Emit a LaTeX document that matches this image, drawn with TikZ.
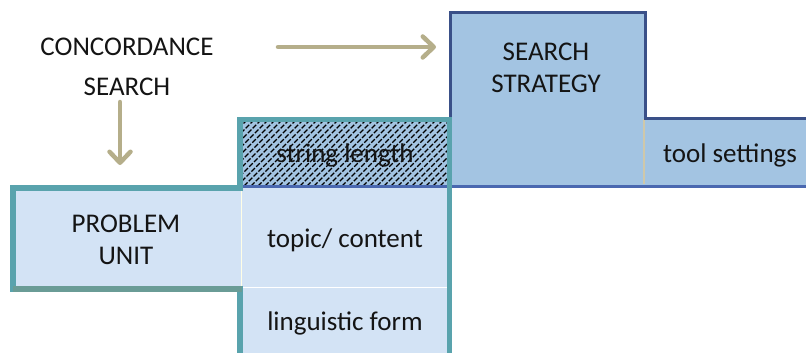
\documentclass[tikz,border=0pt]{standalone}
\usepackage{fontspec}
\setmainfont{Carlito}
\usetikzlibrary{arrows.meta}
\definecolor{stratfill}{HTML}{A3C4E2}
\definecolor{lightfill}{HTML}{D3E3F5}
\definecolor{darkblue}{HTML}{3A5088}
\definecolor{midblue}{HTML}{4A68B0}
\definecolor{tealc}{HTML}{59A3AD}
\definecolor{tealgrey}{HTML}{6A9C96}
\definecolor{tanc}{HTML}{B5AE8A}
\definecolor{sepc}{HTML}{CFC8AA}
\definecolor{txt}{HTML}{141414}
\tikzset{
  lbl/.style={text=txt, align=center, font=\fontsize{27}{32}\selectfont, inner sep=0pt},
  tanarrow/.style={draw=tanc, line width=4.5pt, line cap=round, line join=round,
    -{Straight Barb[length=11pt,width=21pt,line cap=round,line join=round]}},
  tealline/.style={draw=tealc, line width=5.5pt, line join=miter},
}
\begin{document}
\begin{tikzpicture}[x=1pt,y=-1pt]
\useasboundingbox (0,0) rectangle (806,353);
% strategy group
\fill[stratfill] (450,13) -- (645,13) -- (645,118) -- (810,118) -- (810,185) -- (450,185) -- cycle;
\draw[sepc, line width=1.5pt] (644,119) -- (644,184);
\draw[darkblue, line width=3pt] (450,185) -- (450,13) -- (645,13) -- (645,118) -- (810,118);
% light fills
\fill[lightfill] (11,186) rectangle (242,290);
\fill[lightfill] (240,185) rectangle (450,356);
\draw[white!90!yellow, line width=1pt] (241.5,190) -- (241.5,287);
\draw[white, line width=1.2pt] (242,287.5) -- (447,287.5);
% string length hatch
\fill[stratfill] (240,118) rectangle (450,185);
\begin{scope}
  \clip (242,121) rectangle (447,184);
  \foreach \i in {-80,-73,...,230} {
    \draw[black, line width=1.3pt, dash pattern=on 5pt off 1.8pt] (240+\i,186) -- (240+\i+72,114);
  }
\end{scope}
% bottom line of strategy group
\draw[midblue, line width=3.2pt] (240,186.5) -- (810,186.5);
% teal outline
\draw[tealline] (240,356) -- (240,289) -- (13,289) -- (13,188) -- (240,188) -- (240,119.5) -- (449.5,119.5) -- (449.5,356);
\draw[tealgrey, line width=5.5pt] (13,289) -- (242,289);
% texts
\node[lbl] (conc) at (127,66.5) {CONCORDANCE\\[8pt]SEARCH};
\node[lbl] (strat) at (546,67.5) {SEARCH\\STRATEGY};
\node[lbl] (tool) at (730,155) {tool settings};
\node[lbl] (string) at (345,155) {string length};
\node[lbl] (prob) at (126,239.5) {PROBLEM\\UNIT};
\node[lbl] (topic) at (345,240) {topic/ content};
\node[lbl] (ling) at (345,323) {linguistic form};
% arrows
\coordinate (hA) at (278,47);
\coordinate (hB) at (436,47);
\coordinate (vA) at (120,102);
\coordinate (vB) at (120,165);
\draw[tanarrow] (hA) -- (hB);
\draw[tanarrow] (vA) -- (vB);
\end{tikzpicture}
\end{document}
